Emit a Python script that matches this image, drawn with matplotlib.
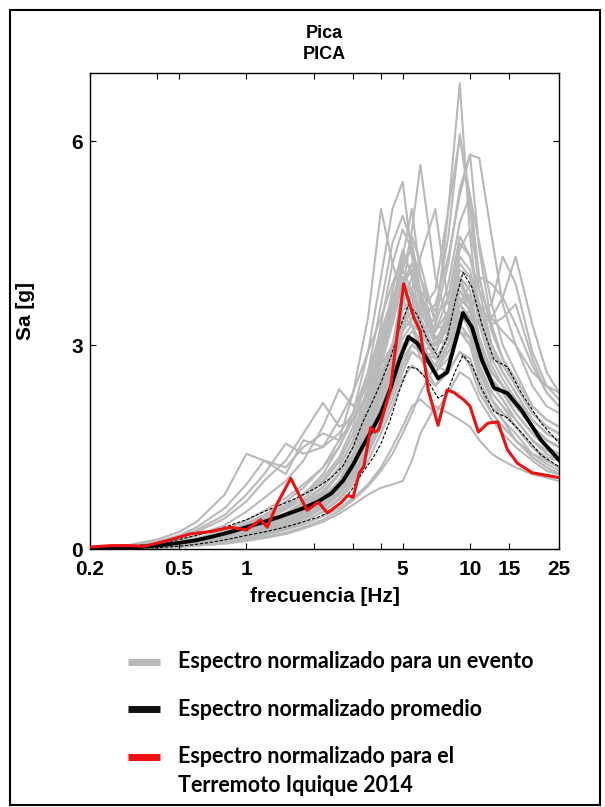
"""
Normalised response spectra for station PICA
"""

import matplotlib
matplotlib.use("Agg")
import matplotlib.pyplot as plt
from matplotlib.lines import Line2D
from matplotlib.patches import Rectangle
from matplotlib.ticker import FixedLocator, NullFormatter

# ── Data ──────────────────────────────────────────────────────────────────
# frequency grid shared by the single-event spectra
freq = [0.2, 0.3, 0.4, 0.5, 0.6, 0.8, 1.0, 1.2, 1.5, 1.8, 2.2, 2.6, 3.0, 3.5, 4.0,
        4.5, 5.0, 5.5, 6.0, 7.0, 8.0, 9.0, 10, 11, 12.5, 14, 16, 19, 22, 25]

events = [
    [0.01, 0.02, 0.04, 0.07, 0.1, 0.16, 0.24, 0.32, 0.45, 0.6, 0.8, 1.1, 1.5, 2.0, 2.6, 3.0, 3.4, 3.6, 3.3, 3.2, 5.0, 6.85, 4.6, 3.4, 2.8, 2.5, 2.2, 1.8, 1.6, 1.5],
    [0.01, 0.02, 0.03, 0.05, 0.08, 0.13, 0.2, 0.28, 0.4, 0.55, 0.75, 1.0, 1.3, 1.8, 2.3, 2.8, 3.3, 3.5, 3.4, 3.6, 4.3, 5.2, 5.8, 5.75, 4.6, 3.6, 3.0, 2.4, 2.1, 2.0],
    [0.01, 0.02, 0.04, 0.06, 0.1, 0.15, 0.22, 0.3, 0.42, 0.55, 0.75, 1.0, 1.4, 2.0, 2.7, 3.3, 3.9, 4.2, 3.8, 3.5, 4.6, 6.1, 5.0, 3.8, 3.0, 2.6, 2.3, 1.9, 1.7, 1.6],
    [0.01, 0.03, 0.05, 0.08, 0.12, 0.2, 0.3, 0.42, 0.6, 0.8, 1.1, 1.5, 2.0, 2.9, 4.0, 5.0, 5.4, 4.3, 3.6, 3.0, 3.4, 4.0, 3.6, 2.9, 2.4, 2.2, 1.9, 1.6, 1.4, 1.3],
    [0.01, 0.02, 0.04, 0.06, 0.09, 0.14, 0.2, 0.28, 0.4, 0.55, 0.75, 1.0, 1.3, 1.8, 2.4, 3.0, 3.8, 4.7, 5.65, 4.0, 3.3, 3.6, 3.4, 2.9, 2.5, 2.3, 2.0, 1.7, 1.5, 1.4],
    [0.01, 0.03, 0.06, 0.1, 0.15, 0.25, 0.38, 0.5, 0.7, 0.9, 1.2, 1.6, 2.3, 3.4, 5.0, 4.2, 3.7, 3.3, 3.0, 2.6, 3.0, 3.5, 3.2, 2.7, 2.3, 2.1, 1.8, 1.5, 1.3, 1.2],
    [0.01, 0.02, 0.03, 0.05, 0.08, 0.12, 0.18, 0.25, 0.36, 0.5, 0.7, 0.95, 1.25, 1.7, 2.2, 2.7, 3.2, 3.8, 4.3, 5.0, 3.6, 3.8, 3.5, 3.0, 2.6, 2.4, 2.1, 1.8, 1.6, 1.5],
    [0.01, 0.02, 0.04, 0.07, 0.1, 0.16, 0.24, 0.33, 0.46, 0.6, 0.82, 1.1, 1.5, 2.1, 2.8, 3.6, 4.3, 5.0, 4.0, 3.1, 3.0, 3.3, 3.1, 2.6, 2.2, 2.0, 1.8, 1.5, 1.3, 1.2],
    [0.01, 0.02, 0.03, 0.05, 0.07, 0.11, 0.16, 0.22, 0.32, 0.44, 0.6, 0.82, 1.1, 1.5, 2.0, 2.4, 2.8, 3.0, 2.9, 2.8, 3.1, 3.6, 3.7, 3.5, 3.6, 4.3, 3.9, 2.9, 2.4, 2.2],
    [0.01, 0.02, 0.03, 0.05, 0.07, 0.1, 0.15, 0.2, 0.3, 0.4, 0.55, 0.75, 1.0, 1.4, 1.8, 2.2, 2.6, 2.9, 2.8, 2.7, 3.0, 3.4, 3.5, 3.3, 3.4, 3.7, 4.3, 3.3, 2.6, 2.3],
    [0.02, 0.05, 0.1, 0.17, 0.25, 0.45, 0.7, 1.0, 1.3, 1.7, 2.15, 1.8, 1.9, 2.3, 2.7, 3.0, 3.3, 3.3, 3.0, 2.7, 2.6, 2.9, 2.7, 2.3, 2.0, 1.8, 1.6, 1.4, 1.3, 1.2],
    [0.02, 0.06, 0.14, 0.25, 0.4, 0.8, 1.4, 1.3, 1.2, 1.5, 1.7, 1.6, 1.9, 2.5, 3.2, 3.6, 3.8, 3.5, 3.2, 2.8, 2.9, 3.2, 3.0, 2.6, 2.2, 2.0, 1.8, 1.5, 1.3, 1.2],
    [0.02, 0.04, 0.08, 0.13, 0.2, 0.35, 0.55, 0.75, 1.0, 1.3, 1.8, 2.35, 2.1, 2.4, 3.0, 3.5, 3.9, 3.8, 3.5, 3.0, 3.1, 3.6, 3.4, 2.9, 2.5, 2.3, 2.1, 1.8, 1.6, 1.5],
    [0.0, 0.01, 0.02, 0.03, 0.05, 0.08, 0.12, 0.16, 0.22, 0.3, 0.4, 0.52, 0.65, 0.8, 0.9, 0.95, 1.0, 1.3, 1.7, 2.1, 2.0, 1.9, 1.8, 1.6, 1.4, 1.3, 1.2, 1.1, 1.05, 1.0],
    [0.0, 0.01, 0.02, 0.04, 0.06, 0.1, 0.14, 0.2, 0.28, 0.36, 0.48, 0.6, 0.75, 0.95, 1.2, 1.5, 1.8, 2.1, 2.2, 2.0, 2.3, 2.6, 2.5, 2.2, 1.9, 1.7, 1.5, 1.3, 1.15, 1.1],
    [0.01, 0.02, 0.04, 0.07, 0.1, 0.17, 0.26, 0.36, 0.5, 0.65, 0.85, 1.1, 1.4, 1.9, 2.5, 3.0, 3.4, 3.3, 2.8, 2.4, 2.7, 3.2, 3.0, 2.5, 2.1, 1.9, 1.7, 1.4, 1.25, 1.15],
    [0.01, 0.02, 0.05, 0.09, 0.14, 0.24, 0.36, 0.48, 0.65, 0.8, 1.0, 1.3, 1.7, 2.3, 3.0, 3.8, 4.4, 4.0, 3.4, 2.9, 3.3, 4.0, 3.8, 3.1, 2.6, 2.4, 2.2, 1.9, 1.7, 1.6],
    [0.01, 0.02, 0.03, 0.05, 0.08, 0.13, 0.19, 0.27, 0.38, 0.5, 0.68, 0.9, 1.2, 1.6, 2.1, 2.6, 3.0, 3.2, 3.1, 3.0, 3.5, 4.4, 4.7, 4.0, 3.2, 2.8, 2.4, 2.0, 1.8, 1.7],
    [0.01, 0.02, 0.03, 0.05, 0.07, 0.12, 0.18, 0.25, 0.36, 0.48, 0.65, 0.88, 1.2, 1.7, 2.3, 2.8, 3.2, 3.4, 3.2, 3.4, 4.2, 5.3, 5.8, 4.4, 3.3, 2.8, 2.4, 2.0, 1.8, 1.7],
    [0.01, 0.02, 0.04, 0.06, 0.09, 0.15, 0.22, 0.3, 0.42, 0.56, 0.76, 1.0, 1.35, 1.9, 2.5, 3.0, 3.5, 3.7, 3.5, 3.8, 5.0, 6.05, 5.2, 4.0, 3.2, 2.8, 2.5, 2.1, 1.9, 1.8],
    [0.01, 0.02, 0.04, 0.07, 0.11, 0.18, 0.27, 0.37, 0.52, 0.68, 0.9, 1.2, 1.6, 2.2, 2.9, 3.5, 4.0, 3.7, 3.1, 2.6, 2.9, 3.3, 3.1, 2.6, 2.2, 2.0, 1.8, 1.5, 1.35, 1.3],
    [0.01, 0.02, 0.03, 0.05, 0.07, 0.11, 0.17, 0.24, 0.34, 0.45, 0.62, 0.84, 1.1, 1.5, 2.0, 2.4, 2.8, 3.0, 2.9, 3.0, 3.3, 3.6, 3.9, 4.0, 3.9, 3.7, 3.3, 2.7, 2.3, 2.1],
    [0.01, 0.02, 0.03, 0.05, 0.08, 0.12, 0.18, 0.26, 0.37, 0.5, 0.68, 0.9, 1.2, 1.7, 2.2, 2.7, 3.1, 3.3, 3.2, 3.2, 3.7, 4.5, 4.3, 3.8, 3.4, 3.2, 3.0, 2.6, 2.4, 2.3],
    [0.01, 0.01, 0.02, 0.04, 0.06, 0.1, 0.15, 0.21, 0.3, 0.4, 0.55, 0.72, 0.95, 1.3, 1.7, 2.1, 2.5, 2.7, 2.6, 2.4, 2.6, 2.9, 2.8, 2.4, 2.0, 1.8, 1.6, 1.35, 1.2, 1.1],
    [0.01, 0.03, 0.06, 0.1, 0.16, 0.28, 0.42, 0.56, 0.75, 0.95, 1.2, 1.5, 1.9, 2.5, 3.1, 3.6, 4.1, 4.6, 4.2, 3.3, 3.2, 3.7, 3.5, 3.0, 2.6, 2.4, 2.1, 1.8, 1.6, 1.5],
    [0.02, 0.05, 0.1, 0.18, 0.28, 0.5, 0.8, 1.1, 1.55, 1.4, 1.5, 1.7, 2.0, 2.6, 3.2, 3.7, 4.1, 3.8, 3.3, 2.8, 3.0, 3.5, 3.3, 2.8, 2.4, 2.2, 1.9, 1.6, 1.45, 1.35],
    [0.01, 0.02, 0.04, 0.06, 0.09, 0.14, 0.21, 0.29, 0.4, 0.53, 0.72, 0.96, 1.3, 1.8, 2.4, 3.0, 3.6, 4.0, 3.7, 3.0, 3.4, 4.2, 4.0, 3.3, 2.7, 2.4, 2.1, 1.8, 1.6, 1.5],
    [0.0, 0.01, 0.02, 0.03, 0.05, 0.08, 0.12, 0.17, 0.24, 0.32, 0.43, 0.56, 0.72, 0.92, 1.15, 1.4, 1.7, 2.0, 2.3, 2.7, 3.2, 3.6, 3.3, 2.7, 2.2, 1.9, 1.6, 1.35, 1.2, 1.1],
    [0.01, 0.02, 0.05, 0.08, 0.12, 0.2, 0.3, 0.42, 0.58, 0.74, 0.98, 1.28, 1.7, 2.4, 3.3, 4.2, 4.7, 4.4, 3.7, 3.0, 3.1, 3.6, 3.4, 2.9, 2.5, 2.3, 2.0, 1.7, 1.5, 1.4],
    [0.02, 0.05, 0.11, 0.2, 0.32, 0.6, 0.95, 1.3, 1.1, 1.6, 1.5, 1.9, 2.3, 2.9, 3.4, 3.9, 4.3, 4.1, 3.6, 3.1, 3.2, 3.8, 3.6, 3.0, 2.6, 2.4, 2.1, 1.8, 1.6, 1.5],
    [0.01, 0.02, 0.03, 0.05, 0.07, 0.11, 0.16, 0.23, 0.33, 0.45, 0.6, 0.8, 1.05, 1.45, 1.9, 2.3, 2.7, 2.9, 2.8, 2.9, 3.4, 4.1, 4.0, 3.6, 3.3, 3.4, 3.6, 2.8, 2.3, 2.1],
    [0.01, 0.02, 0.04, 0.06, 0.1, 0.16, 0.24, 0.33, 0.47, 0.62, 0.84, 1.12, 1.5, 2.1, 2.8, 3.4, 3.9, 4.1, 3.7, 3.2, 3.5, 4.3, 4.1, 3.5, 2.9, 2.6, 2.3, 1.9, 1.7, 1.6],
    [0.01, 0.02, 0.03, 0.05, 0.08, 0.13, 0.2, 0.28, 0.4, 0.53, 0.72, 0.97, 1.3, 1.8, 2.4, 2.9, 3.3, 3.5, 3.3, 2.9, 3.3, 3.9, 3.7, 3.1, 2.6, 2.4, 2.1, 1.8, 1.6, 1.5],
    [0.01, 0.03, 0.05, 0.09, 0.13, 0.22, 0.33, 0.45, 0.62, 0.8, 1.05, 1.35, 1.8, 2.6, 3.6, 4.5, 4.9, 4.5, 3.8, 3.1, 3.3, 3.9, 3.6, 3.0, 2.5, 2.3, 2.0, 1.7, 1.5, 1.4],
    [0.0, 0.01, 0.03, 0.05, 0.07, 0.11, 0.17, 0.24, 0.34, 0.46, 0.62, 0.82, 1.08, 1.45, 1.9, 2.3, 2.7, 3.0, 3.1, 3.3, 3.9, 4.8, 5.2, 4.5, 3.6, 3.0, 2.6, 2.1, 1.9, 1.8],
    [0.01, 0.02, 0.04, 0.07, 0.11, 0.18, 0.28, 0.38, 0.53, 0.7, 0.92, 1.2, 1.6, 2.2, 2.9, 3.6, 4.2, 4.4, 4.0, 3.4, 3.7, 4.6, 4.3, 3.6, 3.0, 2.7, 2.4, 2.0, 1.8, 1.7],
    [0.01, 0.02, 0.03, 0.05, 0.08, 0.13, 0.19, 0.26, 0.37, 0.49, 0.66, 0.88, 1.15, 1.6, 2.1, 2.5, 2.9, 3.1, 2.9, 2.6, 2.8, 3.2, 3.1, 2.7, 2.3, 2.1, 1.9, 1.6, 1.4, 1.3],
]

# mean spectrum and mean +/- one standard deviation
freq_mean = [0.2, 0.3, 0.4, 0.5, 0.6, 0.7, 0.85, 1.0, 1.2, 1.4, 1.6, 1.8, 2.1, 2.4, 2.7, 3.0, 3.3, 3.7,
             4.0, 4.4, 4.8, 5.3, 5.8, 6.4, 7.2, 7.9, 8.6, 9.3, 10.2, 11.3, 12.8, 14.7, 17.0, 20.8, 25]
sa_mean = [0.01, 0.02, 0.05, 0.09, 0.13, 0.18, 0.25, 0.32, 0.4, 0.47, 0.54, 0.6, 0.7, 0.82, 1.0, 1.24, 1.5, 1.79,
           2.0, 2.35, 2.75, 3.12, 3.03, 2.8, 2.51, 2.6, 3.05, 3.47, 3.26, 2.78, 2.37, 2.29, 2.04, 1.6, 1.31]
sa_upper = [0.02, 0.04, 0.08, 0.14, 0.2, 0.26, 0.35, 0.43, 0.55, 0.64, 0.72, 0.8, 0.92, 1.05, 1.22, 1.5, 1.85, 2.2,
            2.45, 2.8, 3.2, 3.59, 3.45, 3.1, 2.82, 3.1, 3.65, 4.07, 3.85, 3.3, 2.78, 2.68, 2.29, 1.85, 1.56]
sa_lower = [0.0, 0.01, 0.02, 0.04, 0.07, 0.1, 0.15, 0.2, 0.25, 0.3, 0.35, 0.4, 0.47, 0.56, 0.7, 0.9, 1.12, 1.35,
            1.55, 1.9, 2.3, 2.68, 2.65, 2.5, 2.22, 2.3, 2.62, 2.85, 2.7, 2.35, 2.02, 1.93, 1.71, 1.38, 1.21]

# Iquique 2014 earthquake
freq_iquique = [0.2, 0.25, 0.3, 0.35, 0.44, 0.56, 0.7, 0.85, 1.0, 1.16, 1.24, 1.38, 1.58, 1.75, 1.87, 2.1,
                2.3, 2.65, 2.84, 3.0, 3.2, 3.35, 3.6, 3.75, 3.9, 4.4, 5.05, 5.6, 6.0, 6.5, 7.2, 7.9,
                8.5, 9.4, 10.0, 10.9, 12.0, 13.3, 14.7, 16.3, 19, 25]
sa_iquique = [0.03, 0.05, 0.05, 0.04, 0.12, 0.22, 0.26, 0.32, 0.28, 0.43, 0.32, 0.68, 1.04, 0.75, 0.57, 0.69,
              0.53, 0.68, 0.79, 0.76, 1.12, 1.21, 1.79, 1.72, 1.75, 2.34, 3.9, 3.41, 3.2, 2.34, 1.82, 2.34,
              2.3, 2.19, 2.1, 1.72, 1.85, 1.87, 1.46, 1.26, 1.12, 1.05]

x_ticks = [0.2, 0.5, 1, 5, 10, 15, 25]
x_ticklabels = ["0.2", "0.5", "1", "5", "10", "15", "25"]
x_minor = [0.4, 2, 3, 4]
y_ticks = [0, 3, 6]

legend_labels = ["Espectro normalizado para un evento",
                 "Espectro normalizado promedio",
                 "Espectro normalizado para el\nTerremoto Iquique 2014"]

GRAY = "#b9b9b9"
RED = "#ee1111"

# ── Figure ────────────────────────────────────────────────────────────────
plt.rcParams["font.family"] = ["Liberation Sans", "DejaVu Sans"]
fig = plt.figure(figsize=(6.05, 8.07), dpi=100)
ax = fig.add_axes([0.1488, 0.3197, 0.7752, 0.5898])

for sa in events:
    ax.plot(freq, sa, color=GRAY, linewidth=1.5, zorder=1)
ax.plot(freq_mean, sa_upper, color="black", linestyle="--", dashes=(3, 1.5), linewidth=0.8, zorder=2)
ax.plot(freq_mean, sa_lower, color="black", linestyle="--", dashes=(3, 1.5), linewidth=0.8, zorder=2)
ax.plot(freq_mean, sa_mean, color="black", linewidth=2.8, zorder=3)
ax.plot(freq_iquique, sa_iquique, color=RED, linewidth=2.2, zorder=4)

ax.set_xscale("log")
ax.set_xlim(0.2, 25)
ax.set_ylim(0, 7)
ax.xaxis.set_major_locator(FixedLocator(x_ticks))
ax.set_xticklabels(x_ticklabels)
ax.xaxis.set_minor_locator(FixedLocator(x_minor))
ax.xaxis.set_minor_formatter(NullFormatter())
ax.set_yticks(y_ticks)
ax.tick_params(which="both", direction="in", top=True, right=True, length=4, width=0.8,
               labelsize=15)
ax.tick_params(axis="x", pad=8)
ax.tick_params(axis="y", pad=5)
for lbl in ax.get_xticklabels() + ax.get_yticklabels():
    lbl.set_fontweight("bold")
for sp in ax.spines.values():
    sp.set_linewidth(1.0)

ax.set_xlabel("frecuencia [Hz]", fontsize=15, fontweight="bold", labelpad=6)
ax.set_ylabel("Sa [g]", fontsize=15, fontweight="bold", labelpad=26)
ax.set_title("Pica\nPICA", fontsize=13, fontweight="bold", pad=10, linespacing=1.35)

# legend below the axes
handle_colors = [GRAY, "#111111", RED]
row_y = [0.1797, 0.1214, 0.0620]
line_step = 0.035
for color, label, y in zip(handle_colors, legend_labels, row_y):
    fig.add_artist(Line2D([0.212, 0.265], [y, y], color=color, linewidth=5,
                          solid_capstyle="butt", transform=fig.transFigure))
    for i, part in enumerate(label.split("\n")):
        fig.text(0.294, y - i * line_step, part, fontsize=15.5, fontweight="bold",
                 family=["Lato", "DejaVu Sans"], va="center", transform=fig.transFigure)

# outer frame
fig.add_artist(Rectangle((0.017, 0.003), 0.974, 0.985, fill=False, edgecolor="black",
                         linewidth=1.5, transform=fig.transFigure))

fig.savefig("out.png", dpi=100)
